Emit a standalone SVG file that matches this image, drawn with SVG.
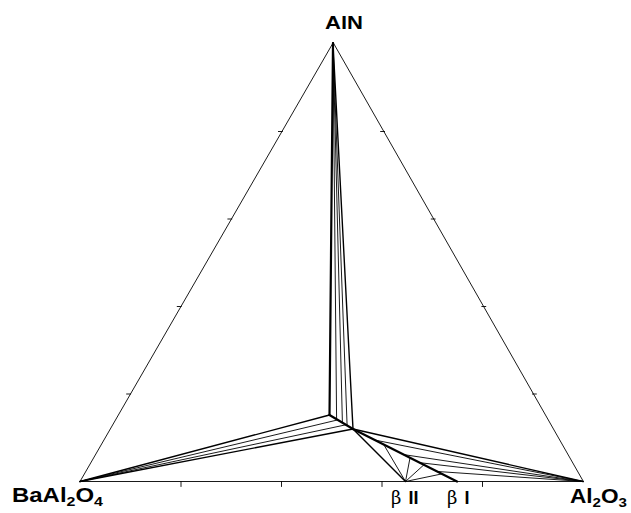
<svg xmlns="http://www.w3.org/2000/svg" width="631" height="513" viewBox="0 0 631 513">
<style>
.l{stroke:#000;fill:none;stroke-width:0.9;stroke-linecap:round}
.t{stroke:#000;fill:none;stroke-width:2.2;stroke-linecap:round}
.m{stroke:#000;fill:none;stroke-width:1.4;stroke-linecap:round}
.lab{font-family:"Liberation Sans",Arial,sans-serif;font-weight:bold;fill:#000}
.sym{font-family:"DejaVu Serif","Liberation Serif",serif;font-weight:normal;fill:#000}
</style>
<rect width="631" height="513" fill="#fff"/>
<g id="frame">
<polygon class="l" points="333,43 80,481.5 583,481.5"/>
<path class="l" d="M181,481.5v5M281.5,481.5v5M382,481.5v5M482.5,481.5v5"/>
<path class="l" d="M130.6,394h-4M181.2,306.5h-4M231.8,219h-4M282.4,131.5h-4"/>
<path class="l" d="M532.4,394h4M481.8,306.5h4M431.2,219h4M380.6,131.5h4"/>
</g>
<g id="connectors">
<line class="t" x1="333" y1="43" x2="329.5" y2="415"/>
<line class="l" x1="333" y1="43" x2="336.6" y2="419.2"/>
<line class="l" x1="333" y1="43" x2="342.4" y2="422.7"/>
<line class="l" x1="333" y1="43" x2="347.1" y2="425.5"/>
<line class="m" x1="333" y1="43" x2="353" y2="429"/>
<line class="t" x1="329.5" y1="415" x2="353" y2="429"/>
<line class="m" x1="80" y1="481.5" x2="329.5" y2="415"/>
<line class="l" x1="80" y1="481.5" x2="337.7" y2="419.9"/>
<line class="l" x1="80" y1="481.5" x2="345.9" y2="424.8"/>
<line class="m" x1="80" y1="481.5" x2="353" y2="429"/>
<line class="t" x1="353" y1="429" x2="457" y2="481.5"/>
<line class="m" x1="353" y1="429" x2="405.5" y2="481.5"/>
<line class="m" x1="583" y1="481.5" x2="353" y2="429"/>
<line class="l" x1="583" y1="481.5" x2="374.6" y2="440"/>
<line class="l" x1="583" y1="481.5" x2="403" y2="454.5"/>
<line class="l" x1="583" y1="481.5" x2="419" y2="462.6"/>
<line class="l" x1="583" y1="481.5" x2="436.2" y2="471.4"/>
<line class="l" x1="405.5" y1="481.5" x2="384" y2="445"/>
<line class="l" x1="405.5" y1="481.5" x2="410" y2="458"/>
<line class="l" x1="405.5" y1="481.5" x2="423.7" y2="465"/>
<line class="l" x1="405.5" y1="481.5" x2="441.4" y2="474"/>
</g>
<g id="AlN"><text class="lab" x="325" y="29" font-size="19" textLength="38" lengthAdjust="spacingAndGlyphs">AlN</text></g>
<g id="BaAl2O4"><text class="lab" x="12" y="502" font-size="19.5" textLength="91" lengthAdjust="spacingAndGlyphs">BaAl<tspan font-size="13" dy="4">2</tspan><tspan dy="-4">O</tspan><tspan font-size="13" dy="4">4</tspan></text></g>
<g id="Al2O3"><text class="lab" x="570" y="502.5" font-size="19.5" textLength="57" lengthAdjust="spacingAndGlyphs">Al<tspan font-size="13" dy="4">2</tspan><tspan dy="-4">O</tspan><tspan font-size="13" dy="4">3</tspan></text></g>
<g id="betaII"><text x="391" y="504" font-size="18"><tspan class="sym">β</tspan><tspan class="lab" dx="7">II</tspan></text></g>
<g id="betaI"><text x="447" y="504" font-size="18"><tspan class="sym">β</tspan><tspan class="lab" dx="7">I</tspan></text></g>
</svg>
